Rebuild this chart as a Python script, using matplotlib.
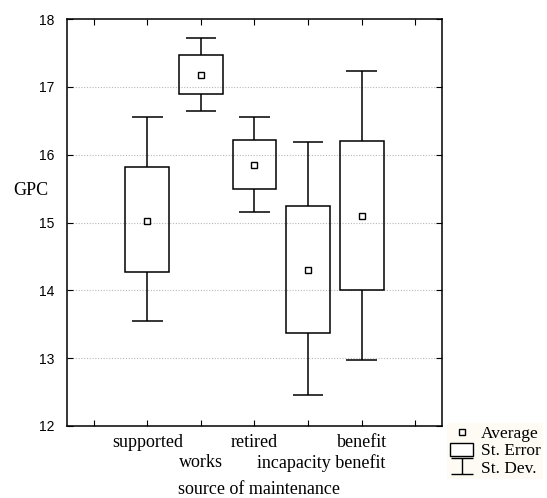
import numpy as np
import matplotlib.pyplot as plt
import matplotlib.transforms as mtransforms
from matplotlib.lines import Line2D
from matplotlib.patches import Patch
from matplotlib.path import Path

categories = ["supported", "works", "retired", "incapacity benefit", "benefit"]
means = [15.02, 17.18, 15.85, 14.30, 15.10]
se_low = [14.27, 16.90, 15.50, 13.37, 14.00]
se_high = [15.82, 17.47, 16.22, 15.25, 16.20]
sd_low = [13.55, 16.64, 15.16, 12.45, 12.97]
sd_high = [16.55, 17.72, 16.55, 16.18, 17.24]

serif = "Liberation Serif"
sans = "Liberation Sans"
fs = 13

fig = plt.figure(figsize=(5.47, 4.98), dpi=100)
ax = fig.add_axes([0.1225, 0.1446, 0.6855, 0.8172])

x = np.arange(1, len(categories) + 1)
box_w = 0.82
cap_w = 0.57

for yv in [13, 14, 15, 16, 17]:
    ax.axhline(yv, color="#b8b8b8", lw=0.8, ls=(0, (1, 1.5)), zorder=0)

# whiskers (st. dev.)
ax.vlines(x, sd_low, se_low, color="black", lw=1.1, zorder=2)
ax.vlines(x, se_high, sd_high, color="black", lw=1.1, zorder=2)
ax.hlines(sd_low, x - cap_w / 2, x + cap_w / 2, color="black", lw=1.1, zorder=2)
ax.hlines(sd_high, x - cap_w / 2, x + cap_w / 2, color="black", lw=1.1, zorder=2)

# boxes (st. error)
ax.bar(x, np.array(se_high) - np.array(se_low), bottom=se_low, width=box_w,
       fill=False, edgecolor="black", lw=1.1, zorder=3)

# means
ax.plot(x, means, ls="none", marker="s", ms=5, mfc="white", mec="black", mew=1.0, zorder=4)

ax.set_xlim(-0.5, 6.5)
ax.set_ylim(12, 18)
ax.set_xticks(range(7))
ax.set_xticklabels([""] * 7)
ax.set_yticks(range(12, 19))
ax.tick_params(axis="y", direction="in", length=4, labelsize=10, pad=9, right=True)
ax.tick_params(axis="x", direction="in", length=4, top=True)
for lab in ax.get_yticklabels():
    lab.set_fontfamily(sans)
for s in ax.spines.values():
    s.set_linewidth(1.1)

# staggered category labels
trans = mtransforms.blended_transform_factory(ax.transData, ax.transAxes)
label_x = [1, 2, 3, 4.25, 5]
label_y = [-0.04, -0.09, -0.04, -0.09, -0.04]
for lx, ly, name in zip(label_x, label_y, categories):
    ax.text(lx, ly, name, transform=trans, ha="center", va="center",
            fontfamily=serif, fontsize=fs)

fig.text(0.4735, 1 - 489 / 498, "source of maintenance", ha="center", va="center",
         fontfamily=serif, fontsize=fs)
fig.text(31 / 547, 1 - 190 / 498, "GPC", ha="center", va="center",
         fontfamily=serif, fontsize=fs)

ibeam = Path([(-1, 0.7), (1, 0.7), (0, 0.7), (0, -0.7), (-1, -0.7), (1, -0.7)],
             [Path.MOVETO, Path.LINETO, Path.MOVETO, Path.LINETO, Path.MOVETO, Path.LINETO])
handles = [
    Line2D([], [], ls="none", marker="s", ms=4, mfc="white", mec="black", mew=1.0),
    Patch(facecolor="white", edgecolor="black", lw=1.0),
    Line2D([], [], ls="none", marker=ibeam, ms=16, mec="black", mew=1.0),
]
leg = fig.legend(handles, ["Average", "St. Error", "St. Dev."],
                 loc="upper left", bbox_to_anchor=(0.818, 1 - 423 / 498),
                 prop={"family": serif, "size": 12.5}, frameon=True,
                 facecolor="#fdfbf2", edgecolor="none", fancybox=False,
                 handlelength=1.32, handleheight=0.75, handletextpad=0.45,
                 labelspacing=0.05, borderpad=0.15, borderaxespad=0)

fig.savefig("out.png", dpi=100, facecolor="white")
